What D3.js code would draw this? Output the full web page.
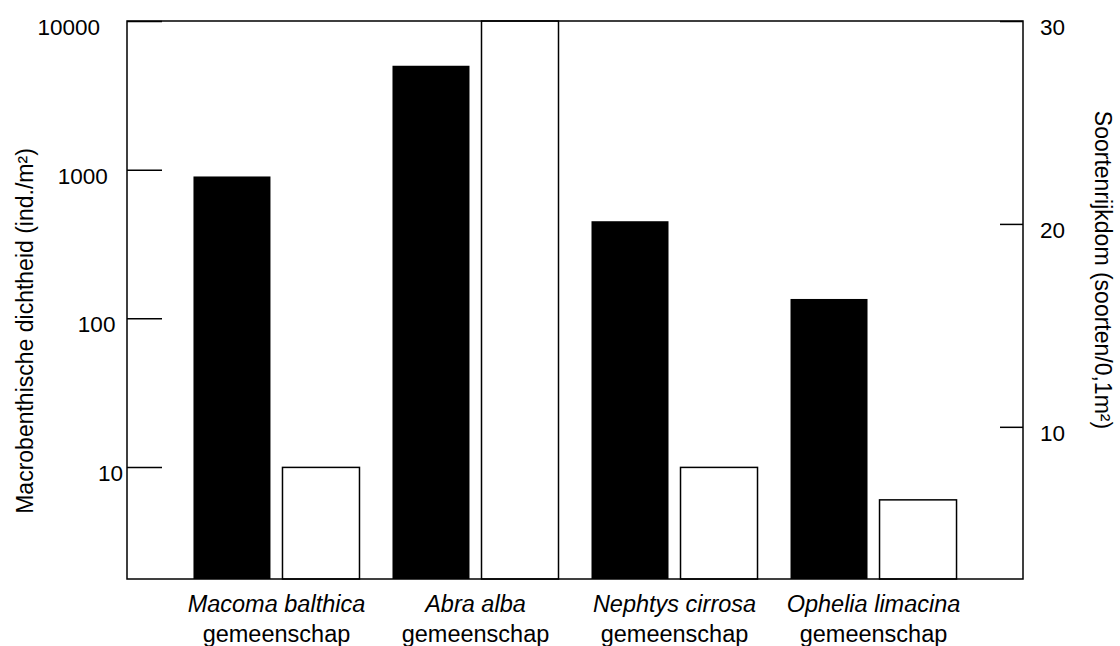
<!DOCTYPE html>
<html>
<head>
<meta charset="utf-8">
<script src="https://cdn.jsdelivr.net/npm/d3@7/dist/d3.min.js"></script>
<style>
  html, body { margin: 0; padding: 0; background: #fff; }
  svg { display: block; font-family: "Liberation Sans", Arial, sans-serif; }
</style>
</head>
<body>
<svg id="chart" width="1120" height="646"></svg>
<script>
// ---- data ----
const categories = ["Macoma balthica", "Abra alba", "Nephtys cirrosa", "Ophelia limacina"];
const categorySuffix = "gemeenschap";
const density = [900, 5000, 450, 135];      // ind./m², left log axis (black bars)
const richness = [8, 30, 8, 6.4];           // soorten/0,1m², right axis (white bars)
const leftTicks = [10, 100, 1000, 10000];
const rightTicks = [10, 20, 30];
const leftTitle = "Macrobenthische dichtheid (ind./m²)";
const rightTitle = "Soortenrijkdom (soorten/0,1m²)";

// ---- layout ----
const m = { left: 127, right: 1023, top: 21, bottom: 579 };
const svg = d3.select("#chart");

const yL = d3.scaleLog().domain([1.765, 10000]).range([m.bottom, m.top]);
const yR = d3.scaleLinear().domain([2.5, 30]).range([m.bottom, m.top]);
const x0 = d3.scaleBand().domain(categories).range([m.left, m.right])
  .paddingInner(0.1658).paddingOuter(0.334);
const x1 = d3.scaleBand().domain(["density", "richness"]).range([0, x0.bandwidth()])
  .paddingInner(0.135);

const rows = categories.map((c, i) => ({ c, d: density[i], r: richness[i] }));

// bars
const g = svg.append("g");
g.selectAll("rect.black").data(rows).join("rect")
  .attr("class", "black")
  .attr("x", d => x0(d.c) + x1("density"))
  .attr("width", x1.bandwidth())
  .attr("y", d => yL(d.d))
  .attr("height", d => m.bottom - yL(d.d))
  .attr("fill", "#000");
g.selectAll("rect.white").data(rows).join("rect")
  .attr("class", "white")
  .attr("x", d => x0(d.c) + x1("richness"))
  .attr("width", x1.bandwidth())
  .attr("y", d => yR(d.r))
  .attr("height", d => m.bottom - yR(d.r))
  .attr("fill", "#fff")
  .attr("stroke", "#000")
  .attr("stroke-width", 1.5);

// frame
svg.append("rect")
  .attr("x", m.left).attr("y", m.top)
  .attr("width", m.right - m.left).attr("height", m.bottom - m.top)
  .attr("fill", "none").attr("stroke", "#000").attr("stroke-width", 1.5);

// left axis
const axL = svg.append("g").attr("transform", `translate(${m.left},0)`)
  .call(d3.axisLeft(yL).tickValues(leftTicks).tickFormat(d3.format("d"))
    .tickSize(-35).tickPadding(27));
axL.select(".domain").remove();
axL.selectAll(".tick line").attr("stroke", "#000").attr("stroke-width", 1.5);
axL.selectAll(".tick text")
  .attr("fill", "#000")
  .style("font-size", "22.5px")
  .attr("x", function() { return -27 + 7.7 * (5 - this.textContent.length); })
  .attr("dy", "0.6em");

// right axis
const axR = svg.append("g").attr("transform", `translate(${m.right},0)`)
  .call(d3.axisRight(yR).tickValues(rightTicks).tickFormat(d3.format("d"))
    .tickSize(-23).tickPadding(17));
axR.select(".domain").remove();
axR.selectAll(".tick line").attr("stroke", "#000").attr("stroke-width", 1.5);
axR.selectAll(".tick text")
  .attr("fill", "#000")
  .style("font-size", "22.5px")
  .attr("dy", "0.62em");

// category labels
const lab = svg.append("g");
rows.forEach(d => {
  const cx = x0(d.c) + x0.bandwidth() / 2;
  lab.append("text").attr("x", cx).attr("y", 612)
    .attr("text-anchor", "middle").style("font-size", "23.5px").style("font-style", "italic")
    .text(d.c);
  lab.append("text").attr("x", cx).attr("y", 642)
    .attr("text-anchor", "middle").style("font-size", "23.5px")
    .text(categorySuffix);
});

// axis titles
svg.append("text")
  .attr("transform", `translate(33,${331}) rotate(-90)`)
  .attr("text-anchor", "middle").style("font-size", "23px")
  .text(leftTitle);
svg.append("text")
  .attr("transform", `translate(1095,${270}) rotate(90)`)
  .attr("text-anchor", "middle").style("font-size", "23px")
  .text(rightTitle);
</script>
</body>
</html>
